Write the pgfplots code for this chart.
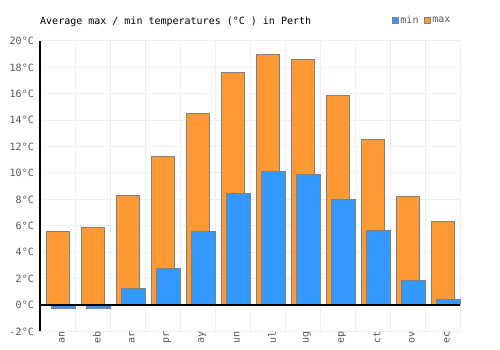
\documentclass[border=0pt]{standalone}
\usepackage{pgfplots}
\pgfplotsset{compat=1.18}
\usepackage{fontspec}
\setmainfont{DejaVu Sans Mono}
\definecolor{cmax}{HTML}{FF9933}
\definecolor{cmin}{HTML}{3399FF}
\definecolor{bord}{HTML}{808080}
\definecolor{gridc}{HTML}{EEEEEE}
\definecolor{lab}{HTML}{555555}
\begin{document}
\begin{tikzpicture}
\useasboundingbox (0,0) rectangle (500bp,350bp);
\begin{axis}[
  at={(40bp,18.6bp)}, anchor=south west,
  scale only axis, width=420bp, height=290.4bp,
  xmin=-0.5, xmax=11.5, ymin=-2, ymax=20,
  clip=false,
  xtick={0,...,11},
  xticklabels={an,eb,ar,pr,ay,un,ul,ug,ep,ct,ov,ec},
  minor xtick={-0.5,0.5,...,11.5},
  ytick={-2,0,...,20},
  yticklabels={{-2°C},{0°C},{2°C},{4°C},{6°C},{8°C},{10°C},{12°C},{14°C},{16°C},{18°C},{20°C}},
  ymajorgrids, xminorgrids,
  major grid style={draw=gridc, line width=1bp},
  minor grid style={draw=gridc, line width=1bp},
  axis line style={draw=none},
  tick style={draw=none},
  major tick length=0pt, minor tick length=0pt,
  /pgf/number format/assume math mode=true,
  tick label style={font=\fontsize{10bp}{12bp}\selectfont, text=lab},
  yticklabel style={anchor=east, inner sep=0pt, xshift=-6bp},
  xticklabel style={rotate=90, anchor=east, inner sep=0pt, yshift=-4.5bp},
  legend columns=2,
  legend style={at={(0.838,1.0706)}, anchor=west, draw=none, fill=none, inner sep=0pt,
    font=\fontsize{10bp}{12bp}\selectfont, text=lab,
    nodes={inner sep=1.5bp},
    /tikz/every even column/.append style={column sep=4bp}},
  legend image code/.code={\draw[#1] (0bp,-3bp) rectangle (6bp,3bp);},
]
\addlegendimage{fill=cmin, draw=bord, line width=0.8bp}
\addlegendentry{min}
\addlegendimage{fill=cmax, draw=bord, line width=0.8bp}
\addlegendentry{max}
\addplot[ybar, bar width=23.4bp, bar shift=0.5bp, fill=cmax, draw=bord, line width=1bp, forget plot]
 coordinates {(0,5.58) (1,5.88) (2,8.31) (3,11.26) (4,14.5) (5,17.65) (6,19.0) (7,18.6) (8,15.87) (9,12.54) (10,8.22) (11,6.33)};
\addplot[ybar, bar width=24.4bp, bar shift=6bp, fill=cmin, draw=bord, line width=1bp, forget plot]
 coordinates {(0,-0.25) (1,-0.25) (2,1.26) (3,2.78) (4,5.6) (5,8.46) (6,10.1) (7,9.9) (8,8.0) (9,5.65) (10,1.82) (11,0.43)};
\draw[black, line width=1.2bp] (axis cs:-0.5,0) -- (axis cs:11.5,0);
\draw[black, line width=1.2bp] (axis cs:-0.5,-2) -- (axis cs:-0.5,20);
\end{axis}
\node[anchor=base west, inner sep=0pt, font=\fontsize{10bp}{12bp}\selectfont] at (40bp,325bp) {Average max / min temperatures (°C ) in Perth};
\end{tikzpicture}
\end{document}
